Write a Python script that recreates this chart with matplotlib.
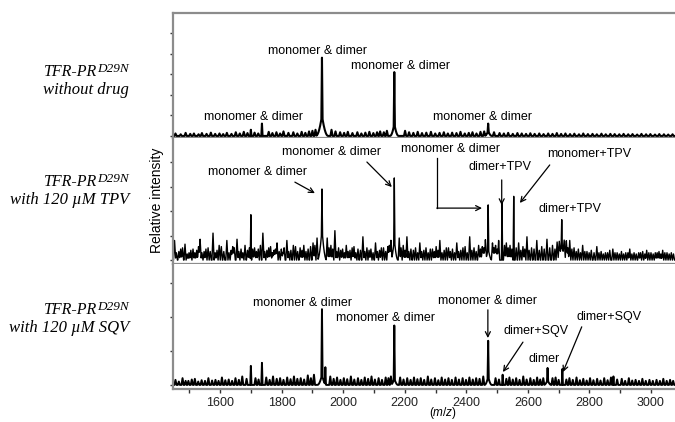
import numpy as np
import matplotlib.pyplot as plt

plt.rcParams['font.family'] = 'Liberation Sans'
plt.rcParams['mathtext.fontset'] = 'custom'
plt.rcParams['mathtext.it'] = 'Liberation Sans:italic'
plt.rcParams['mathtext.rm'] = 'Liberation Sans'

#################
# peak lists (m/z, relative intensity)
# *_peak_h is the height of a sharp peak above its broad base (*_hump_*)

# TFR-PR D29N without drug
top_peak_mz = [1700, 1736, 1931, 2166, 2471]
top_peak_h = [0.3, 0.6, 2.8, 2.5, 0.35]
top_hump_mz = [1931, 2166, 2471]
top_hump_h = [1.0, 0.6, 0.25]
top_hump_w = [20, 14, 12]
top_noise_mz = [1455, 1472, 1488, 1503, 1515, 1530, 1541, 1556, 1570, 1584, 1598, 1610,
                1622, 1637, 1651, 1664, 1677, 1689, 1712, 1724, 1758, 1770, 1783, 1795,
                1806, 1822, 1838, 1851, 1865, 1877, 1889, 1900, 1910, 1962, 1975, 1990,
                2003, 2015, 2030, 2046, 2059, 2072, 2085, 2098, 2110, 2120, 2132, 2142,
                2201, 2214, 2228, 2242, 2256, 2270, 2285, 2299, 2313, 2327, 2340, 2354,
                2368, 2381, 2395, 2408, 2420, 2433, 2446, 2458, 2490, 2508, 2522, 2536,
                2551, 2566, 2580, 2594, 2608, 2622, 2637, 2651, 2666, 2680, 2694, 2708,
                2722, 2737, 2751, 2766, 2780, 2795, 2810, 2824, 2839, 2853, 2868, 2882,
                2897, 2911, 2926, 2940, 2955, 2969, 2984, 2998, 3013, 3027, 3042, 3056, 3070]
top_noise_h = [0.12, 0.08, 0.15, 0.1, 0.12, 0.08, 0.14, 0.1, 0.16, 0.1, 0.12, 0.09,
               0.15, 0.1, 0.18, 0.12, 0.2, 0.14, 0.16, 0.12, 0.2, 0.14, 0.18, 0.12,
               0.22, 0.15, 0.18, 0.12, 0.2, 0.15, 0.22, 0.25, 0.3, 0.3, 0.22, 0.18,
               0.15, 0.2, 0.14, 0.18, 0.12, 0.16, 0.2, 0.14, 0.18, 0.22, 0.18, 0.25,
               0.25, 0.18, 0.15, 0.2, 0.14, 0.16, 0.2, 0.12, 0.15, 0.18, 0.12, 0.16,
               0.14, 0.2, 0.12, 0.15, 0.18, 0.12, 0.2, 0.22, 0.18, 0.14, 0.12, 0.15,
               0.1, 0.14, 0.12, 0.1, 0.13, 0.1, 0.12, 0.09, 0.12, 0.1, 0.14, 0.1,
               0.12, 0.09, 0.11, 0.08, 0.12, 0.09, 0.1, 0.08, 0.11, 0.08, 0.1, 0.09,
               0.08, 0.1, 0.08, 0.09, 0.07, 0.1, 0.08, 0.09, 0.07, 0.09, 0.08, 0.07, 0.08]

# TFR-PR D29N with 120 uM TPV
mid_peak_mz = [1700, 1931, 2166, 2471, 2516, 2554, 2710]
mid_peak_h = [1.85, 1.6, 2.45, 1.75, 2.35, 2.6, 1.05]
mid_hump_mz = [1931, 2166, 2471, 2710]
mid_hump_h = [1.3, 0.9, 0.5, 0.6]
mid_hump_w = [15, 12, 12, 20]
mid_noise_mz = [1452, 1458, 1466, 1472, 1478, 1486, 1493, 1499, 1505, 1512, 1518, 1524,
                1530, 1535, 1541, 1548, 1554, 1561, 1568, 1577, 1584, 1590, 1597, 1604,
                1612, 1622, 1629, 1636, 1641, 1646, 1655, 1661, 1668, 1674, 1681, 1689,
                1695, 1706, 1712, 1718, 1724, 1731, 1739, 1745, 1752, 1758, 1764, 1770,
                1775, 1780, 1785, 1792, 1799, 1804, 1808, 1817, 1823, 1830, 1838, 1845,
                1852, 1860, 1866, 1872, 1879, 1886, 1894, 1902, 1908, 1915, 1948, 1954,
                1960, 1966, 1973, 1979, 1985, 1992, 1998, 2004, 2010, 2016, 2022, 2029,
                2035, 2041, 2048, 2056, 2064, 2070, 2077, 2084, 2090, 2097, 2105, 2111,
                2118, 2124, 2131, 2138, 2145, 2150, 2155, 2182, 2188, 2195, 2201, 2207,
                2213, 2220, 2228, 2235, 2242, 2249, 2255, 2262, 2269, 2276, 2283, 2290,
                2296, 2302, 2308, 2314, 2321, 2328, 2335, 2342, 2348, 2355, 2362, 2369,
                2375, 2382, 2389, 2396, 2403, 2411, 2418, 2425, 2432, 2440, 2446, 2452,
                2457, 2462, 2485, 2490, 2495, 2500, 2505, 2524, 2530, 2536, 2542, 2548,
                2562, 2570, 2577, 2584, 2590, 2597, 2604, 2612, 2620, 2629, 2637, 2645,
                2653, 2662, 2671, 2680, 2688, 2695, 2702, 2718, 2725, 2730, 2736, 2743,
                2750, 2757, 2764, 2771, 2778, 2785, 2792, 2799, 2806, 2815, 2824, 2831,
                2838, 2845, 2852, 2859, 2866, 2876, 2883, 2890, 2897, 2904, 2911, 2918,
                2925, 2931, 2938, 2945, 2952, 2960, 2966, 2973, 2980, 2986, 2993, 3000,
                3007, 3014, 3020, 3026, 3032, 3038, 3045, 3052, 3059, 3066, 3073]
mid_noise_h = [0.8, 0.3, 0.35, 0.45, 0.5, 0.65, 0.25, 0.3, 0.4, 0.45, 0.3, 0.4,
               0.55, 0.85, 0.3, 0.35, 0.45, 0.5, 0.35, 1.1, 0.3, 0.4, 0.6, 0.55,
               0.35, 0.8, 0.3, 0.4, 0.55, 0.5, 0.85, 0.35, 0.45, 0.3, 0.6, 0.4,
               0.5, 0.45, 0.5, 0.35, 0.45, 0.6, 1.1, 0.35, 0.4, 0.5, 0.55, 0.3,
               0.4, 0.45, 0.7, 0.35, 0.45, 0.3, 0.5, 0.8, 0.35, 0.4, 0.6, 0.55,
               0.35, 0.5, 0.4, 0.6, 0.35, 0.45, 0.55, 0.7, 0.6, 0.9, 0.9, 0.5,
               0.6, 0.45, 1.2, 0.35, 0.5, 0.4, 0.45, 0.3, 0.6, 0.35, 0.4, 0.5,
               0.55, 0.3, 0.45, 0.4, 0.95, 0.35, 0.5, 0.4, 0.45, 0.3, 0.7, 0.35,
               0.4, 0.5, 0.5, 0.35, 0.55, 0.6, 0.8, 0.9, 0.5, 0.6, 0.4, 0.95,
               0.35, 0.45, 0.4, 0.5, 0.3, 0.7, 0.35, 0.4, 0.5, 0.3, 0.45, 0.45,
               0.35, 0.55, 0.4, 0.8, 0.3, 0.4, 0.5, 0.5, 0.35, 0.45, 0.3, 0.7,
               0.35, 0.4, 0.5, 0.55, 0.3, 0.95, 0.4, 0.5, 0.35, 0.6, 0.45, 0.55,
               0.5, 0.8, 0.7, 0.5, 0.6, 0.45, 0.8, 0.6, 0.7, 0.5, 0.6, 0.45,
               0.5, 0.7, 0.4, 0.55, 0.45, 0.95, 0.4, 0.5, 0.45, 0.8, 0.4, 0.55,
               0.45, 0.85, 0.5, 0.6, 0.45, 0.7, 0.55, 0.6, 0.75, 0.5, 0.8, 0.45,
               0.5, 0.35, 0.45, 0.3, 0.6, 0.35, 0.35, 0.3, 0.4, 0.3, 0.55, 0.3,
               0.35, 0.25, 0.3, 0.3, 0.4, 0.45, 0.3, 0.3, 0.25, 0.35, 0.25, 0.3,
               0.3, 0.45, 0.25, 0.3, 0.25, 0.3, 0.3, 0.35, 0.25, 0.4, 0.3, 0.3,
               0.25, 0.3, 0.3, 0.35, 0.25, 0.4, 0.3, 0.3, 0.25, 0.3, 0.25]

# TFR-PR D29N with 120 uM SQV
bot_peak_mz = [1700, 1736, 1931, 1942, 2166, 2471, 2518, 2664, 2712, 2878]
bot_peak_h = [0.56, 0.65, 1.93, 0.5, 1.55, 1.05, 0.3, 0.35, 0.47, 0.25]
bot_hump_mz = [1931, 2166, 2471, 2664]
bot_hump_h = [0.3, 0.2, 0.25, 0.15]
bot_hump_w = [15, 12, 12, 12]
bot_noise_mz = [1455, 1466, 1478, 1488, 1497, 1508, 1518, 1529, 1540, 1551, 1562, 1574,
                1585, 1595, 1606, 1617, 1628, 1639, 1650, 1661, 1672, 1686, 1715, 1725,
                1750, 1761, 1772, 1784, 1795, 1806, 1818, 1829, 1840, 1851, 1862, 1873,
                1885, 1895, 1905, 1958, 1969, 1980, 1991, 2002, 2013, 2025, 2036, 2048,
                2059, 2070, 2081, 2092, 2103, 2115, 2126, 2138, 2147, 2155, 2185, 2196,
                2208, 2219, 2230, 2241, 2252, 2263, 2275, 2286, 2298, 2309, 2320, 2331,
                2342, 2353, 2365, 2376, 2388, 2399, 2410, 2421, 2432, 2443, 2455, 2495,
                2506, 2530, 2540, 2551, 2562, 2573, 2585, 2596, 2608, 2619, 2630, 2640,
                2650, 2680, 2690, 2700, 2725, 2735, 2746, 2758, 2769, 2780, 2791, 2802,
                2813, 2825, 2836, 2848, 2859, 2870, 2890, 2905, 2916, 2928, 2939, 2950,
                2961, 2972, 2983, 2995, 3006, 3018, 3029, 3040, 3051, 3062, 3072]
bot_noise_h = [0.15, 0.1, 0.2, 0.12, 0.12, 0.16, 0.18, 0.1, 0.14, 0.12, 0.2, 0.13,
               0.15, 0.12, 0.22, 0.14, 0.16, 0.12, 0.2, 0.15, 0.25, 0.18, 0.2, 0.16,
               0.22, 0.15, 0.25, 0.18, 0.2, 0.15, 0.22, 0.17, 0.25, 0.18, 0.2, 0.16,
               0.28, 0.2, 0.3, 0.25, 0.18, 0.22, 0.15, 0.2, 0.17, 0.25, 0.16, 0.2,
               0.15, 0.22, 0.18, 0.25, 0.16, 0.2, 0.15, 0.22, 0.2, 0.25, 0.22, 0.16,
               0.2, 0.15, 0.22, 0.17, 0.2, 0.15, 0.25, 0.16, 0.2, 0.14, 0.22, 0.16,
               0.2, 0.15, 0.22, 0.16, 0.2, 0.15, 0.22, 0.16, 0.2, 0.18, 0.25, 0.2,
               0.16, 0.18, 0.22, 0.16, 0.2, 0.15, 0.25, 0.16, 0.2, 0.15, 0.22, 0.16,
               0.2, 0.2, 0.22, 0.15, 0.16, 0.2, 0.15, 0.22, 0.14, 0.18, 0.13, 0.2,
               0.14, 0.18, 0.13, 0.2, 0.14, 0.22, 0.16, 0.18, 0.12, 0.2, 0.13, 0.15,
               0.12, 0.18, 0.12, 0.15, 0.12, 0.15, 0.12, 0.18, 0.12, 0.15, 0.12]

sample_line1 = ["TFR-PR", "TFR-PR", "TFR-PR"]
sample_sup = ["D29N", "D29N", "D29N"]
sample_line2 = ["without drug", "with 120 \u00b5M TPV", "with 120 \u00b5M SQV"]
#################

PEAK_W = 2.0
NOISE_W = 3.5
mz = np.arange(1440, 3090, 0.5)


def spectrum(peak_mz, peak_h, hump_mz, hump_h, hump_w, noise_mz, noise_h):
    y = np.zeros_like(mz)
    centers = list(peak_mz) + list(noise_mz) + list(hump_mz)
    heights = list(peak_h) + list(noise_h) + list(hump_h)
    widths = [PEAK_W] * len(peak_mz) + [NOISE_W] * len(noise_mz) + list(hump_w)
    for c, h, w in zip(centers, heights, widths):
        # sharp triangle for spikes, rounded shape for the broad bases
        shape = np.clip(1 - np.abs(mz - c) / w, 0, None)
        y += h * (shape ** 2 if w > 11 else shape)
    return y


spectra = [
    spectrum(top_peak_mz, top_peak_h, top_hump_mz, top_hump_h, top_hump_w, top_noise_mz, top_noise_h),
    spectrum(mid_peak_mz, mid_peak_h, mid_hump_mz, mid_hump_h, mid_hump_w, mid_noise_mz, mid_noise_h),
    spectrum(bot_peak_mz, bot_peak_h, bot_hump_mz, bot_hump_h, bot_hump_w, bot_noise_mz, bot_noise_h),
]

W, H = 675, 422


def fx(px):
    return px / W


def fy(py):
    return 1 - py / H


fig = plt.figure(figsize=(6.75, 4.22), dpi=100)

edges = [13, 138, 264, 389]
ylims = [(-0.1, 5.97), (-0.16, 4.98), (-0.12, 3.56)]
yticks = [range(6), range(5), range(4)]
line_w = [1.5, 1.0, 1.4]
spine_col = "#8c8c8c"
axes = []
for i in range(3):
    ax = fig.add_axes([fx(173), fy(edges[i + 1]), 1 - fx(173), (edges[i + 1] - edges[i]) / H])
    ax.plot(mz, spectra[i], color="black", lw=line_w[i])
    ax.set_xlim(1447, 3078)
    ax.set_ylim(*ylims[i])
    ax.set_yticks(list(yticks[i]))
    ax.tick_params(axis="y", direction="out", length=2.5, width=1, color="#333333", labelleft=False)
    ax.spines["right"].set_visible(False)
    for s in ["top", "bottom", "left"]:
        ax.spines[s].set_color(spine_col)
        ax.spines[s].set_linewidth(1.6)
    if i > 0:
        ax.spines["top"].set_visible(False)
    if i < 2:
        ax.tick_params(axis="x", bottom=False, labelbottom=False)
    axes.append(ax)

ax_t, ax_m, ax_b = axes
ax_b.set_xticks(np.arange(1600, 3001, 200))
ax_b.set_xticks(np.arange(1500, 3001, 200), minor=True)
ax_b.tick_params(axis="x", which="both", direction="out", length=3, width=1,
                 color="#333333", labelsize=9, labelcolor="#222222", pad=3)

arrow = dict(arrowstyle="->", lw=0.9, color="black", shrinkA=0, shrinkB=0, mutation_scale=9)
fs = 9

# top panel labels
ax_t.text(1918, 4.13, "monomer & dimer", ha="center", va="center", fontsize=fs)
ax_t.text(2187, 3.40, "monomer & dimer", ha="center", va="center", fontsize=fs)
ax_t.text(1710, 0.92, "monomer & dimer", ha="center", va="center", fontsize=fs)
ax_t.text(2451, 0.92, "monomer & dimer", ha="center", va="center", fontsize=fs)

# middle panel labels
ax_m.text(1720, 3.59, "monomer & dimer", ha="center", va="center", fontsize=fs)
ax_m.annotate("", xy=(1908, 2.73), xytext=(1843, 3.18), arrowprops=arrow)
ax_m.text(1963, 4.41, "monomer & dimer", ha="center", va="center", fontsize=fs)
ax_m.annotate("", xy=(2158, 2.98), xytext=(2077, 4.0), arrowprops=arrow)
ax_m.text(2347, 4.53, "monomer & dimer", ha="center", va="center", fontsize=fs)
ax_m.plot([2304, 2304], [4.16, 2.12], color="black", lw=0.9)
ax_m.annotate("", xy=(2451, 2.12), xytext=(2304, 2.12), arrowprops=arrow)
ax_m.text(2509, 3.80, "dimer+TPV", ha="center", va="center", fontsize=fs)
ax_m.annotate("", xy=(2515, 2.24), xytext=(2515, 3.27), arrowprops=arrow)
ax_m.text(2798, 4.33, "monomer+TPV", ha="center", va="center", fontsize=fs)
ax_m.annotate("", xy=(2574, 2.33), xytext=(2671, 3.88), arrowprops=arrow)
ax_m.text(2736, 2.08, "dimer+TPV", ha="center", va="center", fontsize=fs)

# bottom panel labels
ax_b.text(1869, 2.41, "monomer & dimer", ha="center", va="center", fontsize=fs)
ax_b.text(2139, 1.97, "monomer & dimer", ha="center", va="center", fontsize=fs)
ax_b.text(2470, 2.47, "monomer & dimer", ha="center", va="center", fontsize=fs)
ax_b.annotate("", xy=(2470, 1.38), xytext=(2470, 2.21), arrowprops=arrow)
ax_b.text(2626, 1.59, "dimer+SQV", ha="center", va="center", fontsize=fs)
ax_b.annotate("", xy=(2519, 0.38), xytext=(2584, 1.26), arrowprops=arrow)
ax_b.text(2652, 0.76, "dimer", ha="center", va="center", fontsize=fs)
ax_b.text(2863, 2.0, "dimer+SQV", ha="center", va="center", fontsize=fs)
ax_b.annotate("", xy=(2714, 0.38), xytext=(2775, 1.71), arrowprops=arrow)

# sample names on the left
line1_y = [72, 182, 310]
line2_y = [90, 200, 328]
for i in range(3):
    fig.text(fx(97), fy(line1_y[i]), sample_line1[i], ha="right", va="center",
             family="Liberation Serif", style="italic", fontsize=11.5)
    fig.text(fx(97), fy(line1_y[i] - 3), sample_sup[i], ha="left", va="center",
             family="Liberation Serif", style="italic", fontsize=9.5)
    fig.text(fx(129), fy(line2_y[i]), sample_line2[i], ha="right", va="center",
             family="Liberation Serif", style="italic", fontsize=12)

fig.text(fx(157), fy(200), "Relative intensity", rotation=90, ha="center", va="center", fontsize=10)
fig.text(fx(443), fy(413), r"($\it{m/z}$)", ha="center", va="center", fontsize=8.5)

fig.savefig("out.png", dpi=100)
